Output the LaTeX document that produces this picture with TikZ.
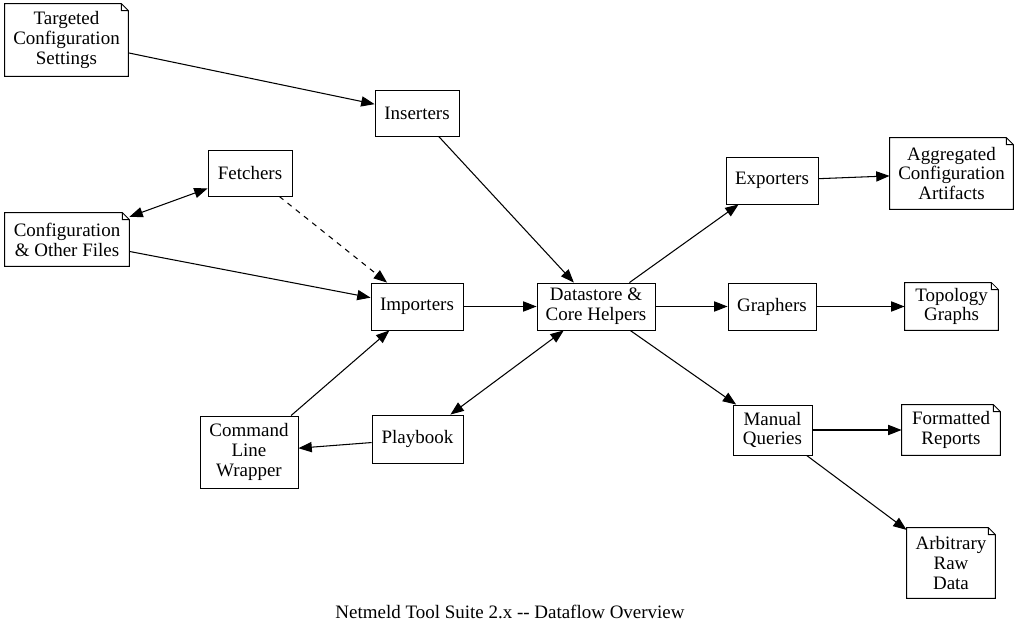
\documentclass[tikz,border=0pt]{standalone}
\usepackage{fontspec}
\setmainfont{Liberation Serif}
\usetikzlibrary{arrows.meta}

\begin{document}
\begin{tikzpicture}
[x=0.02cm,y=-0.02cm
,bx/.style={draw,line width=0.5pt,inner sep=0pt,align=center,font=\fontsize{10.8}{11.3}\selectfont}
,nt/.style={bx,draw=none}
,fl/.style={line width=0.6pt,arrows={-Triangle[length=7.6pt,width=5.8pt]}}
,bfl/.style={fl,arrows={Triangle[length=7.6pt,width=5.8pt]-Triangle[length=7.6pt,width=5.8pt]}}
,dfl/.style={fl,dash pattern=on 3pt off 3pt}]
\useasboundingbox (0,0) rectangle (1019,635);
\node[nt,minimum width=2.46cm,minimum height=1.44cm] (tcs) at (66.5,40) {Targeted\\Configuration\\Settings};
\node[bx,minimum width=1.68cm,minimum height=0.92cm] (ins) at (417,113) {Inserters};
\node[bx,minimum width=1.68cm,minimum height=0.92cm] (fet) at (250,173) {Fetchers};
\node[nt,minimum width=2.48cm,minimum height=1.06cm] (cof) at (67,239.5) {Configuration\\\& Other Files};
\node[bx,minimum width=1.84cm,minimum height=0.94cm] (imp) at (417,306.5) {Importers};
\node[bx,minimum width=2.36cm,minimum height=0.94cm] (dsc) at (596,306.5) {Datastore \&\\Core Helpers};
\node[bx,minimum width=1.84cm,minimum height=0.94cm] (exp) at (772,180.5) {Exporters};
\node[nt,minimum width=2.46cm,minimum height=1.42cm] (agg) at (951.5,173.5) {Aggregated\\Configuration\\Artifacts};
\node[bx,minimum width=1.76cm,minimum height=0.94cm] (gra) at (772,306.5) {Graphers};
\node[nt,minimum width=1.86cm,minimum height=0.94cm] (top) at (951.5,306.5) {Topology\\Graphs};
\node[bx,minimum width=1.58cm,minimum height=1.00cm] (man) at (772.5,430) {Manual\\Queries};
\node[nt,minimum width=1.96cm,minimum height=1.00cm] (fmt) at (951,430) {Formatted\\Reports};
\node[nt,minimum width=1.76cm,minimum height=1.40cm] (arb) at (951,563) {Arbitrary\\Raw\\Data};
\node[bx,minimum width=1.82cm,minimum height=0.96cm] (pla) at (417.5,439) {Playbook};
\node[bx,minimum width=1.96cm,minimum height=1.44cm] (clw) at (249,452) {Command\\Line\\Wrapper};
\node[font=\fontsize{10.8}{11.3}\selectfont] (cap) at (510,612) {Netmeld Tool Suite 2.x -{}- Dataflow Overview};
% folded corners of the file nodes
\foreach \n in {tcs,cof,agg,top,fmt,arb}
  \draw[line width=0.5pt] (\n.north west) -- ([xshift=-0.14cm]\n.north east) -- ([yshift=-0.14cm]\n.north east) -- (\n.south east) -- (\n.south west) -- cycle
    ([xshift=-0.14cm]\n.north east) |- ([yshift=-0.14cm]\n.north east);
\draw[fl] (tcs) -- (ins);
\draw[fl] (ins) -- (dsc);
\draw[bfl] (cof) -- (fet);
\draw[dfl] (fet) -- (imp);
\draw[fl] (cof) -- (imp);
\draw[fl] (imp) -- (dsc);
\draw[fl] (clw) -- (imp);
\draw[fl] (pla) -- (clw);
\draw[bfl] (dsc) -- (pla);
\draw[fl] (dsc) -- (exp);
\draw[fl] (dsc) -- (gra);
\draw[fl] (dsc) -- (man);
\draw[fl] (exp) -- (agg);
\draw[fl] (gra) -- (top);
\draw[fl] (man) -- (fmt);
\draw[fl] (man) -- (arb);
\end{tikzpicture}
\end{document}
